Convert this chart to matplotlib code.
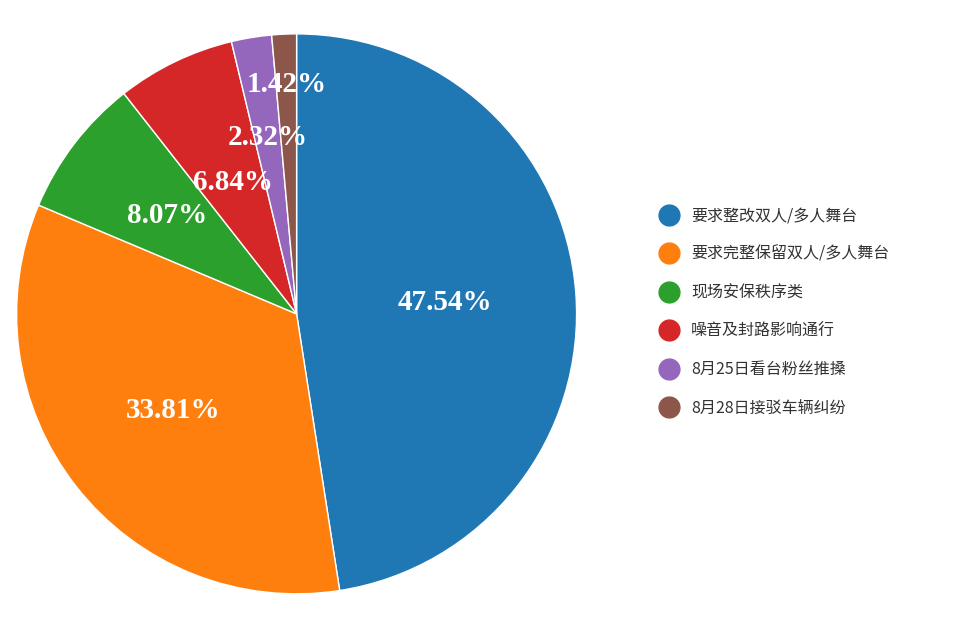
import matplotlib.pyplot as plt
import numpy as np
from matplotlib.lines import Line2D

plt.rcParams['font.family'] = ['Noto Sans CJK SC', 'DejaVu Sans']

categories = ['要求整改双人/多人舞台', '要求完整保留双人/多人舞台', '现场安保秩序类',
              '噪音及封路影响通行', '8月25日看台粉丝推搡', '8月28日接驳车辆纠纷']
values = [47.54, 33.81, 8.07, 6.84, 2.32, 1.42]
labels = ['47.54%', '33.81%', '8.07%', '6.84%', '2.32%', '1.42%']
colors = ['#1f77b4', '#ff7f0e', '#2ca02c', '#d62728', '#9467bd', '#8c564b']
label_r = [0.53, 0.56, 0.58, 0.52, 0.64, 0.82]

fig = plt.figure(figsize=(9.6, 6.24), dpi=100)
ax = fig.add_axes([0.309 - 0.2917, 0.497 - 0.4487, 0.5833, 0.8974])
wedges, _ = ax.pie(values, colors=colors, startangle=90, counterclock=False,
                   wedgeprops=dict(edgecolor='white', linewidth=1))
for w, lab, r in zip(wedges, labels, label_r):
    ang = np.deg2rad((w.theta1 + w.theta2) / 2)
    ax.text(r * np.cos(ang), r * np.sin(ang), lab, ha='center', va='center',
            color='white', fontsize=21, fontweight='bold', family='Liberation Serif')
ax.set_xlim(-1, 1); ax.set_ylim(-1, 1)
ax.set_aspect('equal')

handles = [Line2D([], [], marker='o', linestyle='', markersize=15, color=c) for c in colors]
fig.legend(handles, categories, loc='center left', bbox_to_anchor=(0.665, 0.5),
           frameon=False, fontsize=11.5, labelspacing=1.35, handletextpad=0.4,
           labelcolor='#333333')
fig.savefig('out.png', dpi=100)
